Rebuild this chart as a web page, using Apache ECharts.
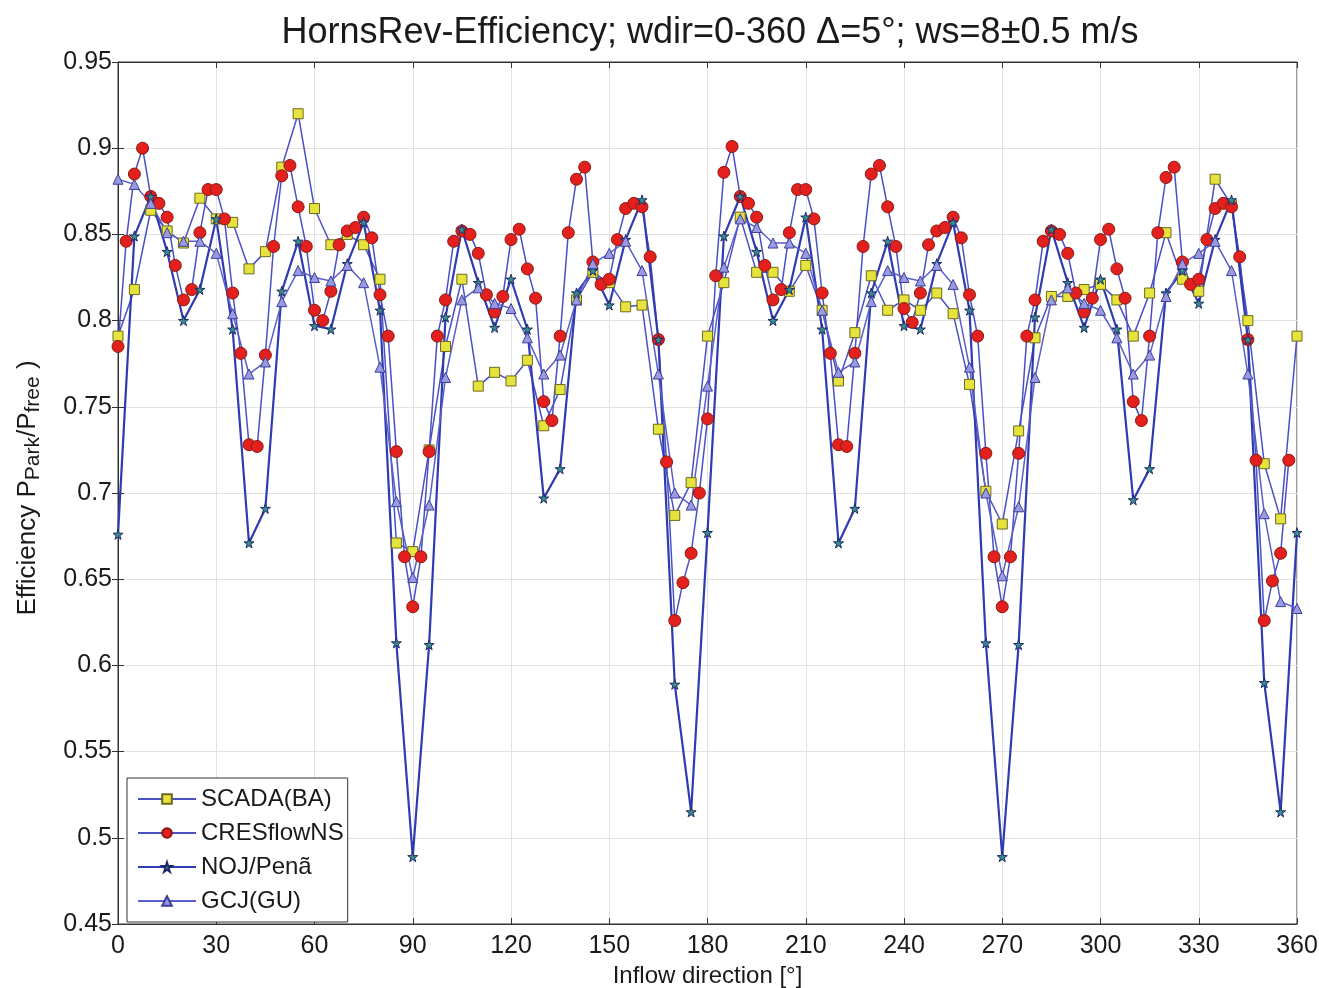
<!DOCTYPE html>
<html>
<head>
<meta charset="utf-8">
<script src="https://cdn.jsdelivr.net/npm/echarts@6/dist/echarts.min.js"></script>
<style>
html,body{margin:0;padding:0;background:#fff;}
#chart{width:1319px;height:988px;}
</style>
</head>
<body>
<div id="chart"></div>
<script>
// ---- data ----
const degStep5 = [0,5,10,15,20,25,30,35,40,45,50,55,60,65,70,75,80,85,90,95,100,105,110,115,120,125,130,135,140,145,150,155,160,165,170,175,180,185,190,195,200,205,210,215,220,225,230,235,240,245,250,255,260,265,270,275,280,285,290,295,300,305,310,315,320,325,330,335,340,345,350,355,360];
const scada = [0.791,0.818,0.864,0.852,0.845,0.871,0.859,0.857,0.830,0.840,0.889,0.920,0.865,0.844,0.850,0.844,0.824,0.671,0.666,0.725,0.785,0.824,0.762,0.770,0.765,0.777,0.739,0.760,0.812,0.828,0.822,0.808,0.809,0.737,0.687,0.706,0.791,0.822,0.860,0.828,0.828,0.817,0.832,0.806,0.765,0.793,0.826,0.806,0.812,0.806,0.816,0.804,0.763,0.701,0.682,0.736,0.790,0.814,0.814,0.818,0.821,0.812,0.791,0.816,0.851,0.824,0.817,0.882,0.867,0.800,0.717,0.685,0.791];
const noj = [0.676,0.849,0.872,0.840,0.800,0.818,0.859,0.795,0.671,0.691,0.817,0.846,0.797,0.795,0.833,0.857,0.806,0.613,0.489,0.612,0.802,0.853,0.822,0.796,0.824,0.795,0.697,0.714,0.816,0.829,0.809,0.847,0.870,0.789,0.589,0.515,0.677,0.849,0.872,0.840,0.800,0.818,0.860,0.795,0.671,0.691,0.816,0.846,0.797,0.795,0.833,0.857,0.806,0.613,0.489,0.612,0.802,0.853,0.822,0.796,0.824,0.795,0.696,0.714,0.816,0.829,0.810,0.847,0.870,0.789,0.590,0.515,0.677];
const gcj = [0.882,0.879,0.868,0.851,0.846,0.846,0.839,0.804,0.769,0.776,0.811,0.829,0.825,0.823,0.832,0.822,0.773,0.695,0.651,0.693,0.767,0.812,0.819,0.810,0.807,0.790,0.769,0.780,0.812,0.833,0.839,0.846,0.829,0.769,0.700,0.693,0.762,0.831,0.859,0.854,0.845,0.845,0.839,0.806,0.770,0.776,0.811,0.829,0.825,0.823,0.832,0.821,0.773,0.700,0.652,0.692,0.767,0.812,0.819,0.810,0.806,0.790,0.769,0.780,0.814,0.833,0.839,0.846,0.829,0.769,0.688,0.637,0.633];
const degStep25 = [0,2.5,5,7.5,10,12.5,15,17.5,20,22.5,25,27.5,30,32.5,35,37.5,40,42.5,45,47.5,50,52.5,55,57.5,60,62.5,65,67.5,70,72.5,75,77.5,80,82.5,85,87.5,90,92.5,95,97.5,100,102.5,105,107.5,110,112.5,115,117.5,120,122.5,125,127.5,130,132.5,135,137.5,140,142.5,145,147.5,150,152.5,155,157.5,160,162.5,165,167.5,170,172.5,175,177.5,180,182.5,185,187.5,190,192.5,195,197.5,200,202.5,205,207.5,210,212.5,215,217.5,220,222.5,225,227.5,230,232.5,235,237.5,240,242.5,245,247.5,250,252.5,255,257.5,260,262.5,265,267.5,270,272.5,275,277.5,280,282.5,285,287.5,290,292.5,295,297.5,300,302.5,305,307.5,310,312.5,315,317.5,320,322.5,325,327.5,330,332.5,335,337.5,340,342.5,345,347.5,350,352.5,355,357.5];
const cres = [0.785,0.846,0.885,0.900,0.872,0.868,0.860,0.832,0.812,0.818,0.851,0.876,0.876,0.859,0.816,0.781,0.728,0.727,0.780,0.843,0.884,0.890,0.866,0.843,0.806,0.800,0.817,0.844,0.852,0.854,0.860,0.848,0.815,0.791,0.724,0.663,0.634,0.663,0.724,0.791,0.812,0.846,0.852,0.850,0.839,0.815,0.805,0.814,0.847,0.853,0.830,0.813,0.753,0.742,0.791,0.851,0.882,0.889,0.834,0.821,0.824,0.847,0.865,0.868,0.866,0.837,0.789,0.718,0.626,0.648,0.665,0.700,0.743,0.826,0.886,0.901,0.872,0.868,0.860,0.832,0.812,0.818,0.851,0.876,0.876,0.859,0.816,0.781,0.728,0.727,0.781,0.843,0.885,0.890,0.866,0.843,0.807,0.799,0.816,0.844,0.852,0.854,0.860,0.848,0.815,0.791,0.723,0.663,0.634,0.663,0.723,0.791,0.812,0.846,0.852,0.850,0.839,0.816,0.805,0.813,0.847,0.853,0.830,0.813,0.753,0.742,0.791,0.851,0.883,0.889,0.834,0.821,0.824,0.847,0.865,0.868,0.866,0.837,0.789,0.719,0.626,0.649,0.665,0.719];
const seriesNames = ['SCADA(BA)','CRESflowNS','NOJ/Penã','GCJ(GU)'];
const xTicks = [0,30,60,90,120,150,180,210,240,270,300,330,360];

function pairs(xs, ys){ return xs.map((x,i)=>[x, ys[i]]); }

const FONT = '"Liberation Sans", Arial, sans-serif';
const LINE = '#4a50c4';
const STAR = 'path://M50,0 L61,35 L98,35 L68,57 L79,91 L50,70 L21,91 L32,57 L2,35 L39,35 Z';

const chart = echarts.init(document.getElementById('chart'), null, {renderer:'canvas'});
const option = {
  animation:false,
  backgroundColor:'#fff',
  title:{
    text:'HornsRev-Efficiency; wdir=0-360 \u0394=5\u00b0; ws=8\u00b10.5 m/s',
    left:705, top:10, textAlign:'center',
    textStyle:{fontFamily:FONT, fontSize:36, fontWeight:'normal', color:'#1a1a1a'}
  },
  grid:{left:118, right:22, top:62, bottom:64, show:true, borderColor:'#333', borderWidth:1,
        containLabel:false, outerBoundsMode:'none'},
  legend:{
    orient:'vertical', left:127, top:778,
    backgroundColor:'#fff', borderColor:'#333', borderWidth:1,
    padding:[9,4,9,10], itemGap:10, itemWidth:58, itemHeight:12,
    textStyle:{fontFamily:FONT, fontSize:24, color:'#1a1a1a'},
    data:seriesNames
  },
  xAxis:[{
    type:'value', min:0, max:360, interval:30,
    axisLine:{show:true, lineStyle:{color:'#333'}},
    axisTick:{show:true, inside:true, length:6, lineStyle:{color:'#333'}},
    axisLabel:{fontFamily:FONT, fontSize:25, color:'#1a1a1a', margin:10},
    splitLine:{show:true, lineStyle:{color:'#e2e2e2', width:1}},
    name:'Inflow direction [\u00b0]', nameLocation:'middle', nameGap:40,
    nameTextStyle:{fontFamily:FONT, fontSize:24, color:'#1a1a1a'}
  },{
    type:'value', min:0, max:360, interval:30, position:'top',
    axisLine:{show:true, lineStyle:{color:'#333'}},
    axisTick:{show:true, inside:true, length:6, lineStyle:{color:'#333'}},
    axisLabel:{show:false}, splitLine:{show:false}
  }],
  yAxis:[{
    type:'value', min:0.45, max:0.95, interval:0.05,
    axisLine:{show:true, lineStyle:{color:'#333'}},
    axisTick:{show:true, inside:true, length:6, lineStyle:{color:'#333'}},
    axisLabel:{fontFamily:FONT, fontSize:25, color:'#1a1a1a', margin:6,
      formatter:v=>String(+v.toFixed(2))},
    splitLine:{show:true, lineStyle:{color:'#e2e2e2', width:1}},
    name:'Efficiency P{sub|Park}/P{sub|free} )', nameLocation:'middle', nameGap:74, nameRotate:90,
    nameTextStyle:{fontFamily:FONT, fontSize:26, color:'#1a1a1a', padding:[0,0,0,10],
      rich:{sub:{fontFamily:FONT, fontSize:21, color:'#1a1a1a', verticalAlign:'bottom', padding:[12,0,0,0]}}}
  },{
    type:'value', min:0.45, max:0.95, interval:0.05, position:'right',
    axisLine:{show:true, lineStyle:{color:'#333'}},
    axisTick:{show:true, inside:true, length:6, lineStyle:{color:'#333'}},
    axisLabel:{show:false}, splitLine:{show:false}
  }],
  series:[
    {name:seriesNames[0], type:'line', data:pairs(degStep5, scada),
     symbol:'rect', symbolSize:10,
     lineStyle:{color:LINE, width:1.5},
     itemStyle:{color:'#e6e43c', borderColor:'#6b6a20', borderWidth:1}},
    {name:seriesNames[1], type:'line', data:pairs(degStep25, cres),
     symbol:'circle', symbolSize:12,
     lineStyle:{color:LINE, width:1.5},
     itemStyle:{color:'#e3201e', borderColor:'#8a1a10', borderWidth:1}},
    {name:seriesNames[2], type:'line', data:pairs(degStep5, noj),
     symbol:STAR, symbolSize:10,
     lineStyle:{color:'#2f3bb0', width:2.2},
     itemStyle:{color:'#3a8c8c', borderColor:'#1d2a6a', borderWidth:1}},
    {name:seriesNames[3], type:'line', data:pairs(degStep5, gcj),
     symbol:'triangle', symbolSize:10,
     lineStyle:{color:'#5a5ec8', width:1.5},
     itemStyle:{color:'#9a9ae0', borderColor:'#3a3e9c', borderWidth:1}}
  ]
};
chart.setOption(option);
</script>
</body>
</html>
